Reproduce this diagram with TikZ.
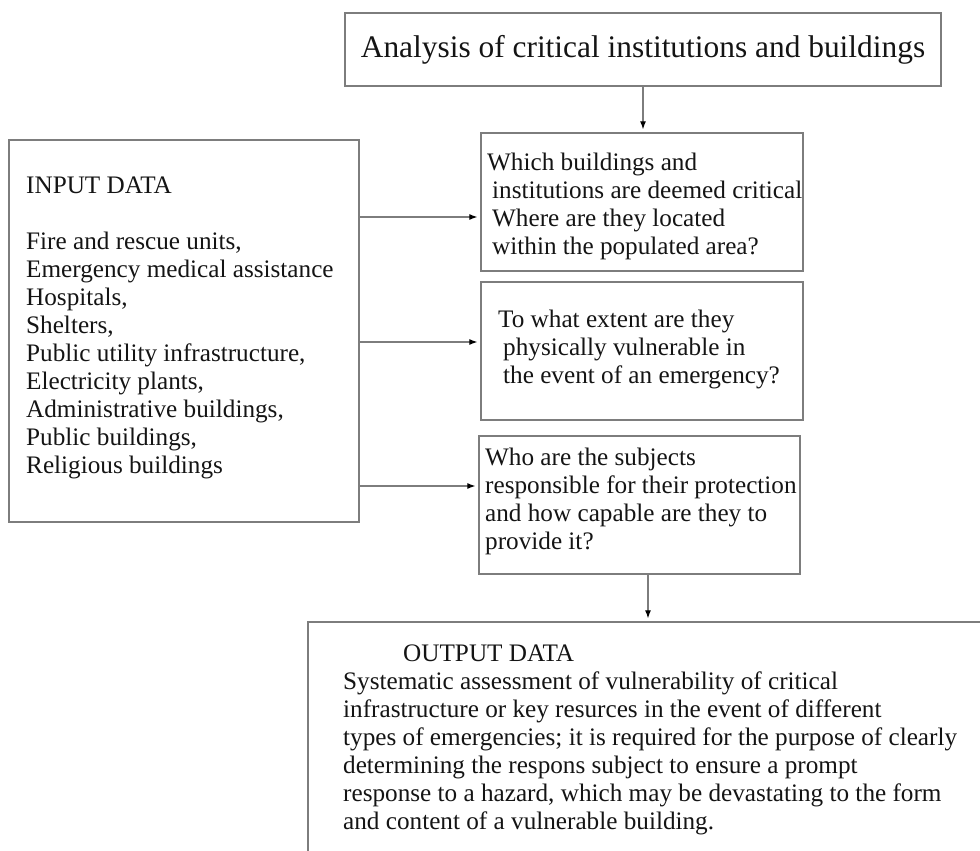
\documentclass[tikz,border=0pt]{standalone}
\usepackage{fontspec}
\setmainfont{Liberation Serif}
\usetikzlibrary{positioning,calc,arrows.meta}
\definecolor{boxgray}{RGB}{125,125,125}
\definecolor{inkgray}{RGB}{20,20,20}

\begin{document}
\begin{tikzpicture}[x=1pt,y=-1pt]
    \tikzstyle{box}   = [draw=boxgray, line width=1.3pt, rectangle, inner sep=0pt]
    \tikzstyle{txt}   = [anchor=north west, align=left, inner sep=0pt, text=inkgray,
                         font=\fontsize{25.2}{28}\selectfont]
    \tikzstyle{dedge} = [draw=boxgray, line width=1.2pt, ->,
                         >={Latex[length=8pt,width=6pt,black]}, shorten >=3pt]

    \useasboundingbox (0,0) rectangle (980,851);
    \clip (0,0) rectangle (980,851);

    \node[box, minimum width=596pt, minimum height=73pt, text=inkgray,
          font=\fontsize{31.4}{36}\selectfont] (analysis) at (643,49.5)
          {Analysis of critical institutions and buildings};
    \node[box, minimum width=350pt, minimum height=382pt] (input) at (184,331) {};
    \node[box, minimum width=322pt, minimum height=138pt] (q1) at (642,202) {};
    \node[box, minimum width=322pt, minimum height=138pt] (q2) at (642,351) {};
    \node[box, minimum width=321pt, minimum height=138pt] (q3) at (639.5,505) {};
    \node[box, minimum width=700pt, minimum height=300pt] (output) at (658,772) {};

    \node[txt] (inputtxt) at (26,176.5) {INPUT DATA\\[28pt]Fire and rescue units,\\
        Emergency medical assistance\\Hospitals,\\Shelters,\\
        Public utility infrastructure,\\Electricity plants,\\
        Administrative buildings,\\Public buildings,\\Religious buildings};
    \node[txt] (q1txt) at (487,152.8) {Which buildings and\\
        \hspace*{5pt}institutions are deemed critical\\
        \hspace*{5pt}Where are they located\\
        \hspace*{5pt}within the populated area?};
    \node[txt] (q2txt) at (498,309.8) {To what extent are they\\
        \hspace*{5pt}physically vulnerable in\\
        \hspace*{5pt}the event of an emergency?};
    \node[txt] (q3txt) at (485,447.8) {Who are the subjects\\
        responsible for their protection\\
        and how capable are they to\\provide it?};
    \node[txt] (outputtxt) at (343,644.5) {\hspace*{60pt}OUTPUT DATA\\
        Systematic assessment of vulnerability of critical\\
        infrastructure or key resurces in the event of different\\
        types of emergencies; it is required for the purpose of clearly\\
        determining the respons subject to ensure a prompt\\
        response to a hazard, which may be devastating to the form\\
        and content of a vulnerable building.};

    \draw[dedge] (analysis.south) -- (analysis.south |- q1.north);
    \draw[dedge] ([yshift=-15pt]q1.west -| input.east) -- ([yshift=-15pt]q1.west);
    \draw[dedge] ([yshift=9pt]q2.west -| input.east) -- ([yshift=9pt]q2.west);
    \draw[dedge] ([yshift=19pt]q3.west -| input.east) -- ([yshift=19pt]q3.west);
    \draw[dedge] ([xshift=8.5pt]q3.south) -- ([xshift=8.5pt]q3.south |- output.north);
\end{tikzpicture}
\end{document}
